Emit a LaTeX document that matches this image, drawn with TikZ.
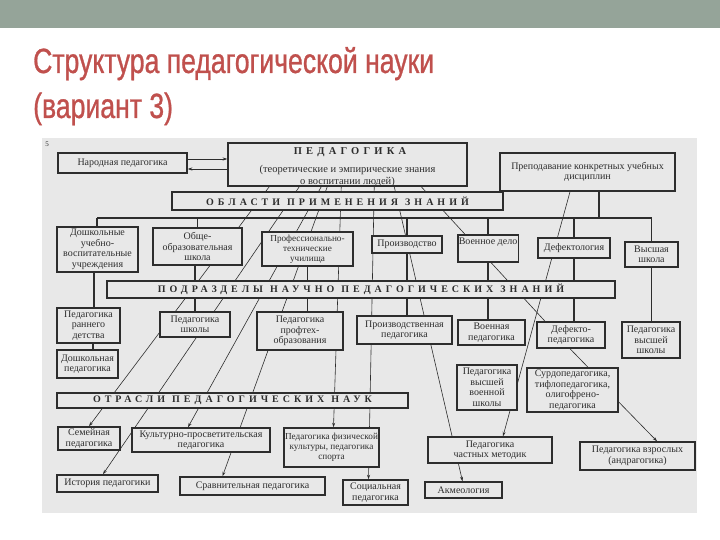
\documentclass[tikz,border=0pt]{standalone}
\usepackage{fontspec}
\setmainfont{Liberation Serif}
\newfontfamily\titlefont[FakeStretch=0.76,FakeBold=0.8]{Liberation Sans}
\newfontfamily\spacedfont[LetterSpace=40]{Liberation Serif}
\usetikzlibrary{arrows.meta}
\pgfdeclarelayer{bg}
\pgfdeclarelayer{lines}
\pgfsetlayers{bg,lines,main}
\definecolor{band}{RGB}{149,164,153}
\definecolor{titlered}{RGB}{192,80,77}
\definecolor{scan}{RGB}{232,232,232}
\definecolor{ink}{RGB}{45,45,45}
\begin{document}
\begin{tikzpicture}[x=1pt,y=-1pt,
  bx/.style={draw=ink, line width=1.5pt, fill=scan, inner sep=1pt, align=center, text=ink,
    font=\fontsize{10}{10.5}\selectfont},
  smalltext/.style={font=\fontsize{9.2}{10}\selectfont},
  barbox/.style={draw=ink, line width=1.7pt, fill=scan, inner sep=0pt, text=ink,
    font=\spacedfont\bfseries\fontsize{10}{10}\selectfont},
  ln/.style={draw=ink, line width=0.6pt},
  arr/.style={ln, -{Stealth[length=4.5pt,width=3pt]}},
  busln/.style={draw=ink, line width=1.3pt}]
\useasboundingbox (0,0) rectangle (720,540);
\begin{pgfonlayer}{bg}
\fill[white] (0,0) rectangle (720,540);
\fill[band] (0,0) rectangle (720,28);
\fill[scan] (42,138) rectangle (697,513);
\end{pgfonlayer}
\node[anchor=base west, text=titlered, inner sep=0, font=\titlefont\fontsize{35}{40}\selectfont] (title1) at (33,73) {Структура педагогической науки};
\node[anchor=base west, text=titlered, inner sep=0, font=\titlefont\fontsize{35}{40}\selectfont] (title2) at (33,118) {(вариант 3)};
\node[text=ink, inner sep=0, font=\fontsize{7}{7}\selectfont] (pagenum) at (47,144) {5};

% boxes
\node[bx, minimum width=129pt, minimum height=20pt] (narod) at (122.5,163) {Народная педагогика};
\node[bx, minimum width=239pt, minimum height=43pt] (ped) at (347.5,164.5) {};
\node[anchor=base, inner sep=0, text=ink, font=\spacedfont\bfseries\fontsize{10.5}{11}\selectfont] (pedh) at (350,155) {ПЕДАГОГИКА};
\node[anchor=base, inner sep=0, text=ink, font=\fontsize{10.5}{11}\selectfont] (ped2) at (347.5,173) {(теоретические и эмпирические знания};
\node[anchor=base, inner sep=0, text=ink, font=\fontsize{10.5}{11}\selectfont] (ped3) at (347.5,184.5) {о воспитании людей)};
\node[bx, minimum width=175pt, minimum height=38pt] (prep) at (587.5,172) {Преподавание конкретных учебных\\дисциплин};
\node[barbox, minimum width=331pt, minimum height=18pt] (obl) at (337.5,201) {ОБЛАСТИ\hspace{7pt}ПРИМЕНЕНИЯ\hspace{7pt}ЗНАНИЙ};

\node[bx, minimum width=81pt, minimum height=45pt] (dosh) at (97.5,249.5) {Дошкольные\\учебно-\\воспитательные\\учреждения};
\node[bx, minimum width=89pt, minimum height=37pt] (obsh) at (197.5,246.5) {Обще-\\образовательная\\школа};
\node[bx, smalltext, minimum width=91pt, minimum height=34pt] (prof) at (307.5,249) {Профессионально-\\технические\\училища};
\node[bx, minimum width=70pt, minimum height=17pt] (proizv) at (407,244.5) {Производство};
\node[bx, minimum width=60pt, inner ysep=2pt, text height=7pt, text depth=16pt] (voen) at (488,248.5) {Военное дело};
\node[bx, minimum width=72pt, minimum height=20pt] (defekt) at (574,248) {Дефектология};
\node[bx, minimum width=53pt, minimum height=25pt] (vyssh) at (651.5,254.5) {Высшая\\школа};

\node[barbox, minimum width=508pt, minimum height=17pt] (podr) at (361,289.5) {ПОДРАЗДЕЛЫ\hspace{7pt}НАУЧНО\hspace{7pt}ПЕДАГОГИЧЕСКИХ\hspace{7pt}ЗНАНИЙ};

\node[bx, minimum width=63pt, minimum height=35pt] (rannego) at (88.5,325.5) {Педагогика\\раннего\\детства};
\node[bx, minimum width=61pt, minimum height=28pt] (doshped) at (87.5,364) {Дошкольная\\педагогика};
\node[bx, minimum width=70pt, minimum height=25pt] (shkoly) at (195,324.5) {Педагогика\\школы};
\node[bx, minimum width=86pt, minimum height=38pt] (proftech) at (300,331) {Педагогика\\профтех-\\образования};
\node[bx, minimum width=95pt, minimum height=28pt] (proizvped) at (404.5,330) {Производственная\\педагогика};
\node[bx, minimum width=67pt, minimum height=25pt] (voenped) at (491.5,332.5) {Военная\\педагогика};
\node[bx, minimum width=68pt, minimum height=26pt] (defped) at (571,335) {Дефекто-\\педагогика};
\node[bx, minimum width=58pt, minimum height=36pt] (vysshped) at (651,340) {Педагогика\\высшей\\школы};
\node[bx, minimum width=60pt, minimum height=45pt] (vvsh) at (487,387.5) {Педагогика\\высшей\\военной\\школы};
\node[bx, minimum width=91pt, minimum height=44pt] (surdo) at (572.5,390) {Сурдопедагогика,\\тифлопедагогика,\\олигофрено-\\педагогика};

\node[barbox, minimum width=351pt, minimum height=15pt] (otr) at (232.5,400.5) {ОТРАСЛИ\hspace{7pt}ПЕДАГОГИЧЕСКИХ\hspace{7pt}НАУК};

\node[bx, minimum width=62pt, minimum height=23pt] (semeyn) at (89,438.5) {Семейная\\педагогика};
\node[bx, minimum width=138pt, minimum height=24pt] (kult) at (201,440) {Культурно-просветительская\\педагогика};
\node[bx, smalltext, minimum width=93pt, minimum height=39pt] (fiz) at (331.5,447.5) {Педагогика физической\\культуры, педагогика\\спорта};
\node[bx, minimum width=124pt, minimum height=26pt] (chastn) at (490,450) {Педагогика\\частных методик};
\node[bx, minimum width=115pt, minimum height=28pt] (vzros) at (637.5,456) {Педагогика взрослых\\(андрагогика)};
\node[bx, minimum width=101pt, minimum height=17pt] (istor) at (107.5,483.5) {История педагогики};
\node[bx, minimum width=145pt, minimum height=18pt] (sravn) at (252.5,486) {Сравнительная педагогика};
\node[bx, minimum width=65pt, minimum height=25pt] (social) at (375.5,492.5) {Социальная\\педагогика};
\node[bx, minimum width=77pt, minimum height=16pt] (akmeo) at (463.5,490) {Акмеология};

\begin{pgfonlayer}{lines}
% arrows between Народная педагогика and ПЕДАГОГИКА
\draw[arr] ([yshift=4pt]narod.east) -- ([yshift=4pt]narod.east -| ped.west);
\draw[arr] ([yshift=-6pt]narod.east -| ped.west) -- ([yshift=-6pt]narod.east);
% bus of application areas
\coordinate (busL) at (97,218);
\coordinate (busR) at (651.5,218);
\draw[busln] (busL) -- (busR);
\draw[busln] ([xshift=11.5pt]prep.south) -- ([xshift=11.5pt]prep.south |- busL);
\draw[busln] (busL) -- (busL |- dosh.north);
\draw[busln] (obsh.north |- busL) -- (obsh.north);
\draw[busln] (proizv.north |- busL) -- (proizv.north);
\draw[busln] (voen.north |- busL) -- (voen.north);
\draw[busln] (defekt.north |- busL) -- (defekt.north);
\draw[busln] (busR) -- (vyssh.north);
% verticals to subdivisions
\draw[busln] ([xshift=-3.5pt]dosh.south) -- ([xshift=-3.5pt]dosh.south |- rannego.north);
\draw[busln] ([xshift=4.5pt]rannego.south) -- ([xshift=4.5pt]rannego.south |- doshped.north);
\draw[busln] ([xshift=-2.5pt]obsh.south) -- ([xshift=-2.5pt]obsh.south |- shkoly.north);
\draw[busln] (prof.south) -- (prof.south |- proftech.north);
\draw[busln] (proizv.south) -- (proizv.south |- proizvped.north);
\draw[busln] (voen.south) -- (voen.south |- voenped.north);
\draw[busln] (defekt.south) -- (defekt.south |- defped.north);
\draw[busln] (vyssh.south) -- (vyssh.south |- vysshped.north);
\draw[ln] ([xshift=-1pt]defped.south) -- ([xshift=15.5pt]surdo.north);
\draw[arr] ([yshift=-12pt]surdo.east) -- ([xshift=19.5pt]vzros.north);
% long lines from ПЕДАГОГИКА
\draw[arr] ([xshift=42pt]ped.south west) -- (semeyn.north);
\draw[arr] ([xshift=72pt]ped.south west) -- ([xshift=-4.5pt]istor.north);
\draw[arr] ([xshift=94pt]ped.south west) -- ([xshift=-13pt]kult.north);
\draw[arr] ([xshift=100pt]ped.south west) -- ([xshift=-30pt]sravn.north);
\draw[arr] ([xshift=114pt]ped.south west) -- ([xshift=2pt]fiz.north);
\draw[arr] ([xshift=147pt]ped.south west) -- ([xshift=-7pt]social.north);
\draw[arr] ([xshift=167pt]ped.south west) -- ([xshift=-1pt]akmeo.north);
\draw[ln] ([xshift=194pt]ped.south west) -- ([xshift=-26pt]defped.north);
\draw[arr] ([xshift=-17.5pt]prep.south) -- ([xshift=13pt]chastn.north);
\end{pgfonlayer}
\end{tikzpicture}
\end{document}
